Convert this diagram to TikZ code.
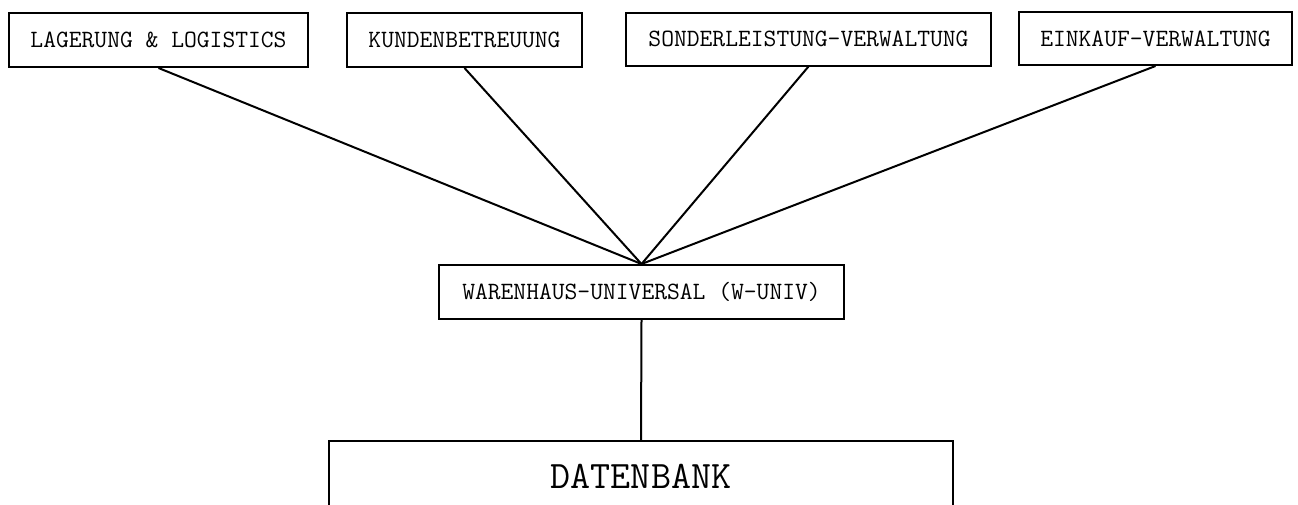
\documentclass[tikz,border=0pt]{standalone}
\usepackage{fontspec}
\begin{document}
\begin{tikzpicture}[x=1pt,y=-1pt,
  box/.style={draw, line width=2pt, rectangle, inner sep=0pt,
    font=\ttfamily\fontsize{24.86}{28}\selectfont},
  bigbox/.style={draw, line width=2pt, rectangle, inner sep=0pt,
    font=\ttfamily\fontsize{38.9}{44}\selectfont},
  link/.style={line width=2pt}]
\useasboundingbox (0,0) rectangle (1298,504);
\clip (0,0) rectangle (1298,504);
\node[box, minimum width=299pt, minimum height=54pt] (lag) at (158.5,40) {LAGERUNG \& LOGISTICS};
\node[box, minimum width=235pt, minimum height=54pt] (kun) at (464.5,40) {KUNDENBETREUUNG};
\node[box, minimum width=365pt, minimum height=53pt] (son) at (808.5,39) {SONDERLEISTUNG-VERWALTUNG};
\node[box, minimum width=273pt, minimum height=53pt] (ein) at (1155.5,38.5) {EINKAUF-VERWALTUNG};
\node[box, minimum width=405pt, minimum height=54pt] (wu) at (641.5,292) {WARENHAUS-UNIVERSAL (W-UNIV)};
\node[bigbox, minimum width=624pt, minimum height=70pt] (db) at (641,476) {DATENBANK};
\draw[link] (lag.south) -- (wu.north);
\draw[link] (kun.south) -- (wu.north);
\draw[link] (son.south) -- (wu.north);
\draw[link] (ein.south) -- (wu.north);
\draw[link] (wu.south) -- (db.north);
\end{tikzpicture}
\end{document}
